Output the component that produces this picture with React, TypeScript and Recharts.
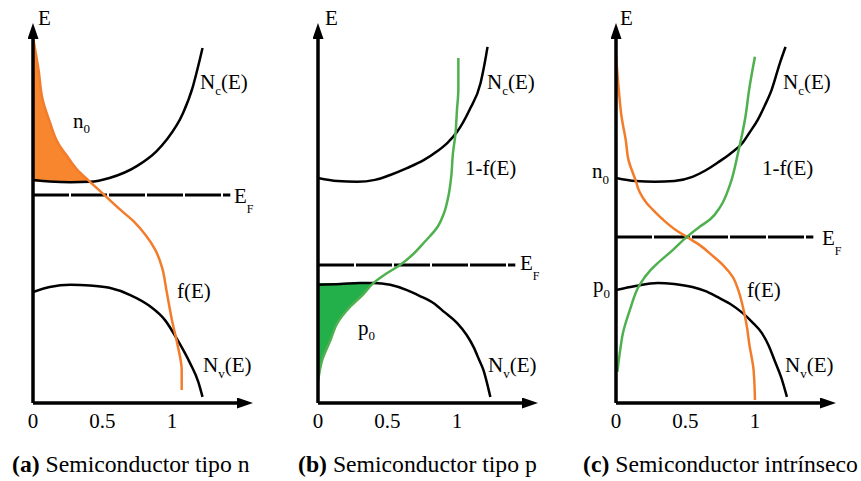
import React from "react";
import { ComposedChart, Line, Area, XAxis, YAxis } from "recharts";

const FONT = '"Liberation Serif", Tinos, "DejaVu Serif", serif';
const X_TICKS = [0, 0.5, 1];
const X_MAX = 1.54;
const E_MAX = 9.84;
const EF_END = 1.42;

// (a) tipo n
const aNcX = [0, 0.12, 0.27, 0.41, 0.55, 0.75, 0.89, 0.96, 1.08, 1.15, 1.2, 1.22];
const aNcE = [5.87, 5.83, 5.81, 5.82, 5.92, 6.24, 6.63, 6.92, 7.63, 8.32, 9.03, 9.34];
const aNvX = [0, 0.12, 0.27, 0.41, 0.55, 0.7, 0.84, 0.95, 1.04, 1.13, 1.19, 1.22];
const aNvE = [2.92, 3.05, 3.11, 3.09, 3.03, 2.84, 2.55, 2.18, 1.66, 1.05, 0.55, 0.16];
const aFX = [0, 0.04, 0.07, 0.12, 0.18, 0.25, 0.32, 0.41, 0.52, 0.63, 0.73, 0.81, 0.88, 0.93, 0.96, 1.0, 1.04, 1.07, 1.07];
const aFE = [9.63, 8.76, 7.97, 7.4, 6.84, 6.47, 6.13, 5.82, 5.45, 5.08, 4.76, 4.42, 4.03, 3.55, 2.97, 2.18, 1.53, 0.87, 0.34];
const aEF = 5.47;

// (b) tipo p
const bNcX = [0, 0.14, 0.28, 0.41, 0.52, 0.64, 0.76, 0.86, 0.93, 1.0, 1.09, 1.17, 1.2, 1.22];
const bNcE = [5.92, 5.84, 5.82, 5.87, 6.0, 6.18, 6.39, 6.63, 6.84, 7.13, 7.71, 8.42, 8.95, 9.37];
const bNvX = [0, 0.16, 0.3, 0.4, 0.52, 0.64, 0.73, 0.83, 0.91, 1.0, 1.07, 1.12, 1.16, 1.19, 1.22, 1.24];
const bNvE = [3.11, 3.13, 3.16, 3.16, 3.11, 2.97, 2.82, 2.63, 2.39, 2.11, 1.79, 1.47, 1.13, 0.87, 0.47, 0.16];
const bGX = [0, 0.03, 0.09, 0.14, 0.23, 0.32, 0.4, 0.49, 0.59, 0.68, 0.76, 0.86, 0.91, 0.94, 0.96, 0.97, 0.99, 1.0, 1.01, 1.01];
const bGE = [0.55, 1.13, 1.66, 2.11, 2.53, 2.84, 3.16, 3.4, 3.63, 3.9, 4.21, 4.63, 5.03, 5.47, 6.0, 6.53, 7.11, 7.71, 8.24, 9.08];
const bEF = 3.63;

// (c) intrínseco
const cNcX = [0, 0.14, 0.28, 0.42, 0.55, 0.64, 0.73, 0.82, 0.91, 0.96, 1.02, 1.07, 1.12, 1.18, 1.22];
const cNcE = [5.92, 5.84, 5.82, 5.84, 5.95, 6.11, 6.32, 6.55, 6.84, 7.11, 7.45, 7.82, 8.24, 8.95, 9.37];
const cNvX = [0, 0.14, 0.3, 0.42, 0.55, 0.64, 0.73, 0.82, 0.91, 0.98, 1.05, 1.1, 1.14, 1.19, 1.23];
const cNvE = [2.97, 3.08, 3.16, 3.13, 3.05, 2.95, 2.79, 2.61, 2.37, 2.13, 1.84, 1.5, 1.13, 0.66, 0.16];
const cFX = [0, 0.02, 0.04, 0.07, 0.09, 0.14, 0.17, 0.22, 0.28, 0.34, 0.42, 0.51, 0.6, 0.69, 0.77, 0.84, 0.88, 0.91, 0.94, 0.96, 0.99, 1.0];
const cFE = [9.16, 8.24, 7.53, 6.92, 6.39, 5.87, 5.55, 5.26, 5.03, 4.82, 4.58, 4.37, 4.16, 3.89, 3.63, 3.32, 2.97, 2.58, 2.05, 1.53, 0.87, 0.08];
const cGX = [0.01, 0.03, 0.05, 0.1, 0.17, 0.25, 0.3, 0.41, 0.51, 0.6, 0.68, 0.75, 0.82, 0.88, 0.93, 0.96, 1.0];
const cGE = [0.82, 1.39, 1.84, 2.45, 3.11, 3.5, 3.68, 4.03, 4.37, 4.63, 4.84, 5.16, 5.74, 6.61, 7.5, 8.29, 9.11];
const cEF = 4.37;

type Pt = { x: number; E: number };
const pts = (xs: number[], es: number[]): Pt[] => xs.map((x, i) => ({ x, E: es[i] }));

const ORANGE = "#f37c2b";
const ORANGE_FILL = "#f7862f";
const GREEN = "#4fb04f";
const GREEN_FILL = "#23b04b";

interface PanelProps {
  id: string;
  left: number;
  nc: Pt[];
  nv: Pt[];
  ef: number;
  f?: Pt[];
  g?: Pt[];
  fillF?: Pt[];
  fillG?: Pt[];
}

function Panel({ id, left, nc, nv, ef, f, g, fillF, fillG }: PanelProps) {
  const efLine = [
    { x: 0, E: ef },
    { x: EF_END, E: ef },
  ];
  return (
    <div style={{ position: "absolute", left, top: 0 }}>
      <ComposedChart
        width={260}
        height={440}
        layout="vertical"
        margin={{ top: 29, right: 13, bottom: 10, left: 23 }}
      >
        <defs>
          <marker
            id={`arr-${id}`}
            markerUnits="userSpaceOnUse"
            markerWidth={16}
            markerHeight={11}
            refX={10}
            refY={5.5}
            orient="auto-start-reverse"
          >
            <path d="M0,0 L16,5.5 L0,11 z" fill="#000" />
          </marker>
        </defs>
        <XAxis
          type="number"
          domain={[0, X_MAX]}
          ticks={X_TICKS}
          allowDataOverflow
          height={27}
          tickLine={false}
          tickSize={0}
          tickMargin={10}
          tick={{ fontSize: 21, fill: "#000", fontFamily: FONT }}
          axisLine={{ stroke: "#000", strokeWidth: 3.5, markerEnd: `url(#arr-${id})` }}
        />
        <YAxis
          type="number"
          dataKey="E"
          domain={[0, E_MAX]}
          reversed
          allowDataOverflow
          width={10}
          tick={false}
          tickLine={false}
          axisLine={{ stroke: "#000", strokeWidth: 3.5, markerStart: `url(#arr-${id})` }}
        />
        {fillF && (
          <Area data={fillF} dataKey="x" type="monotoneY" fill={ORANGE_FILL} fillOpacity={1}
            stroke="none" isAnimationActive={false} />
        )}
        {fillG && (
          <Area data={fillG} dataKey="x" type="monotoneY" fill={GREEN_FILL} fillOpacity={1}
            stroke="none" isAnimationActive={false} />
        )}
        <Line data={nc} dataKey="x" type="monotoneX" stroke="#000" strokeWidth={2.5} dot={false} isAnimationActive={false} />
        <Line data={nv} dataKey="x" type="monotoneX" stroke="#000" strokeWidth={2.5} dot={false} isAnimationActive={false} />
        <Line data={efLine} dataKey="x" type="linear" stroke="#000" strokeWidth={3} strokeDasharray="36 2" dot={false} isAnimationActive={false} />
        {f && (
          <Line data={f} dataKey="x" type="monotoneY" stroke={ORANGE} strokeWidth={2.5} dot={false} isAnimationActive={false} />
        )}
        {g && (
          <Line data={g} dataKey="x" type="monotoneY" stroke={GREEN} strokeWidth={2.5} dot={false} isAnimationActive={false} />
        )}
      </ComposedChart>
    </div>
  );
}

function Lbl({ x, y, main, sub, rest, size = 21, subSize = 13, shift = 6 }: {
  x: number; y: number; main: string; sub?: string; rest?: string; size?: number; subSize?: number; shift?: number;
}) {
  return (
    <text x={x} y={y} fontSize={size} fontFamily={FONT} fill="#000">
      {main}
      {sub && <tspan fontSize={subSize} dy={shift}>{sub}</tspan>}
      {rest && <tspan fontSize={size} dy={sub ? -shift : 0}>{rest}</tspan>}
    </text>
  );
}

export default function App() {
  const aF = pts(aFX, aFE);
  const bG = pts(bGX, bGE);
  return (
    <div style={{ position: "absolute", left: 0, top: 0, width: 861, height: 481, background: "#fff" }}>
      <Panel id="a" left={0} nc={pts(aNcX, aNcE)} nv={pts(aNvX, aNvE)} ef={aEF} f={aF} fillF={aF.slice(0, 8)} />
      <Panel id="b" left={285} nc={pts(bNcX, bNcE)} nv={pts(bNvX, bNvE)} ef={bEF} g={bG} fillG={bG.slice(0, 7)} />
      <Panel id="c" left={583} nc={pts(cNcX, cNcE)} nv={pts(cNvX, cNvE)} ef={cEF} f={pts(cFX, cFE)} g={pts(cGX, cGE)} />
      <svg width={861} height={481} style={{ position: "absolute", left: 0, top: 0, pointerEvents: "none" }}>
        {/* (a) */}
        <Lbl x={38} y={25} main="E" />
        <Lbl x={73} y={128} main="n" sub="0" shift={5} />
        <Lbl x={200} y={89} main="N" sub="c" rest="(E)" />
        <Lbl x={234} y={203} main="E" sub="F" subSize={12} shift={10} />
        <Lbl x={177} y={298} main="f(E)" />
        <Lbl x={203} y={372} main="N" sub="v" rest="(E)" />
        <text x={12} y={472} fontSize={23.7} fontFamily={FONT}>
          <tspan fontWeight="bold">(a)</tspan> Semiconductor tipo n
        </text>
        {/* (b) */}
        <Lbl x={325} y={25} main="E" />
        <Lbl x={487} y={89} main="N" sub="c" rest="(E)" />
        <Lbl x={465} y={175} main="1-f(E)" />
        <Lbl x={520} y={270} main="E" sub="F" subSize={12} shift={10} />
        <Lbl x={358} y={335} main="p" sub="0" shift={5} />
        <Lbl x={488} y={372} main="N" sub="v" rest="(E)" />
        <text x={298} y={472} fontSize={23.7} fontFamily={FONT}>
          <tspan fontWeight="bold">(b)</tspan> Semiconductor tipo p
        </text>
        {/* (c) */}
        <Lbl x={620} y={25} main="E" />
        <Lbl x={592} y={178} main="n" sub="0" shift={6} />
        <Lbl x={593} y={292} main="p" sub="0" shift={6} />
        <Lbl x={783} y={89} main="N" sub="c" rest="(E)" />
        <Lbl x={762} y={175} main="1-f(E)" />
        <Lbl x={822} y={245} main="E" sub="F" subSize={12} shift={10} />
        <Lbl x={747} y={297} main="f(E)" />
        <Lbl x={785} y={372} main="N" sub="v" rest="(E)" />
        <text x={583} y={472} fontSize={23.7} fontFamily={FONT}>
          <tspan fontWeight="bold">(c)</tspan> Semiconductor intrínseco
        </text>
      </svg>
    </div>
  );
}
